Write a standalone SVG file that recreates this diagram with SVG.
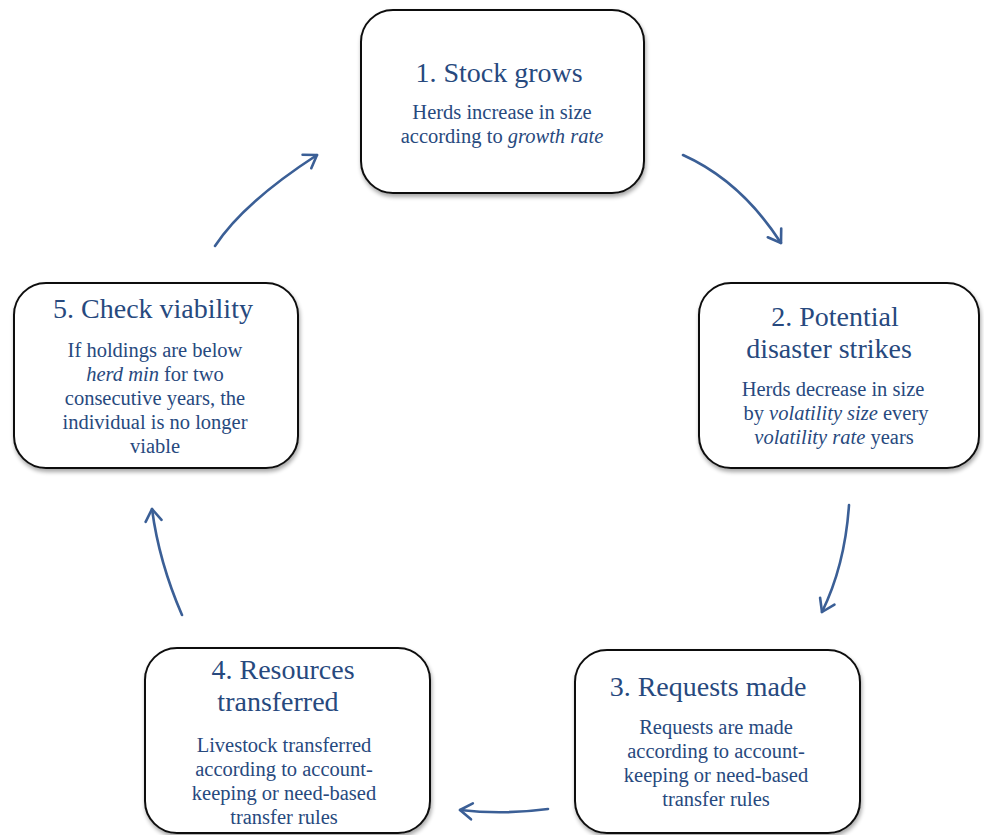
<svg xmlns="http://www.w3.org/2000/svg" width="984" height="835" viewBox="0 0 984 835">
<defs>
<filter id="sh" x="-10%" y="-10%" width="120%" height="125%">
<feGaussianBlur in="SourceAlpha" stdDeviation="2"/>
<feOffset dx="1" dy="3" result="b"/>
<feComponentTransfer><feFuncA type="linear" slope="0.35"/></feComponentTransfer>
<feMerge><feMergeNode/><feMergeNode in="SourceGraphic"/></feMerge>
</filter>
<marker id="ah" markerUnits="userSpaceOnUse" markerWidth="24" markerHeight="24" refX="14" refY="9" orient="auto" viewBox="0 0 24 18">
<path d="M2,1 L14,9 L2,17" fill="none" stroke="#3b5f96" stroke-width="2.6" stroke-linecap="round" stroke-linejoin="round"/>
</marker>
</defs>
<style>
.box{fill:#fff;stroke:#111;stroke-width:2;filter:url(#sh)}
text{fill:#27497e;text-anchor:middle}
.h{font-size:28px}
.b{font-size:20.5px}
.i{font-style:italic}
.c{fill:none;stroke:#3b5f96;stroke-width:2.6;stroke-linecap:round;marker-end:url(#ah)}
</style>
<rect width="984" height="835" fill="#fff"/>
<g id="connectors">
<path class="c" d="M683,155 Q741,181 781,243"/>
<path class="c" d="M849,505 Q845,565 822,612"/>
<path class="c" d="M548,809 Q503,815 460,810"/>
<path class="c" d="M182,615 Q159,562 152,509"/>
<path class="c" d="M215,246 Q243,203 317,155"/>
</g>
<g font-family="Liberation Serif, Times New Roman, serif">
<g id="node1">
<rect class="box" x="361" y="10" width="283" height="183" rx="32"/>
<text class="h" x="499" y="82">1. Stock grows</text>
<text class="b" x="502" y="119">Herds increase in size</text>
<text class="b" x="502" y="143">according to <tspan class="i">growth rate</tspan></text>
</g>
<g id="node2">
<rect class="box" x="699" y="283" width="280" height="185" rx="32"/>
<text class="h" x="835" y="326">2. Potential</text>
<text class="h" x="829" y="358">disaster strikes</text>
<text class="b" x="833" y="396">Herds decrease in size</text>
<text class="b" x="836" y="420">by <tspan class="i">volatility size</tspan> every</text>
<text class="b" x="834" y="444"><tspan class="i">volatility rate</tspan> years</text>
</g>
<g id="node3">
<rect class="box" x="575" y="650" width="285" height="183" rx="32"/>
<text class="h" x="708" y="696">3. Requests made</text>
<text class="b" x="716" y="734">Requests are made</text>
<text class="b" x="716" y="758">according to account-</text>
<text class="b" x="716" y="782">keeping or need-based</text>
<text class="b" x="716" y="806">transfer rules</text>
</g>
<g id="node4">
<rect class="box" x="145" y="648" width="285" height="185" rx="32"/>
<text class="h" x="283" y="679">4. Resources</text>
<text class="h" x="278" y="711">transferred</text>
<text class="b" x="284" y="752">Livestock transferred</text>
<text class="b" x="284" y="776">according to account-</text>
<text class="b" x="284" y="800">keeping or need-based</text>
<text class="b" x="284" y="824">transfer rules</text>
</g>
<g id="node5">
<rect class="box" x="14" y="283" width="284" height="185" rx="32"/>
<text class="h" x="153" y="318">5. Check viability</text>
<text class="b" x="155" y="357">If holdings are below</text>
<text class="b" x="155" y="381"><tspan class="i">herd min</tspan> for two</text>
<text class="b" x="155" y="405">consecutive years, the</text>
<text class="b" x="155" y="429">individual is no longer</text>
<text class="b" x="155" y="453">viable</text>
</g>
</g>
</svg>
